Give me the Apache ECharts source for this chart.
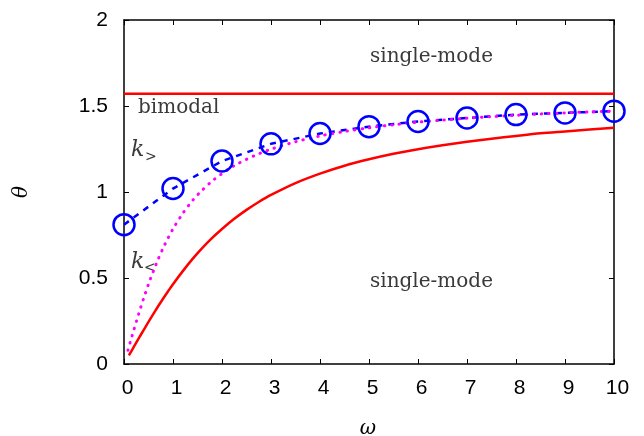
<!DOCTYPE html>
<html>
<head>
<meta charset="utf-8">
<script src="https://cdn.jsdelivr.net/npm/echarts@6/dist/echarts.min.js"></script>
<style>
html,body{margin:0;padding:0;background:#fff;}
#chart{width:644px;height:436px;}
</style>
</head>
<body>
<div id="chart"></div>
<script>
// ---- data ----
var xTickLabels = ['0','1','2','3','4','5','6','7','8','9','10'];
var yTickLabels = ['0','0.5','1','1.5','2'];

// blue circles + dashed line
var circleOmega = [0, 1, 2, 3, 4, 5, 6, 7, 8, 9, 10];
var circleTheta = [0.81, 1.02, 1.18, 1.28, 1.34, 1.38, 1.41, 1.43, 1.45, 1.46, 1.47];

// magenta dotted curve
var dotOmega = [0.08, 0.15, 0.2, 0.3, 0.4, 0.5, 0.6, 0.7, 0.8, 0.9, 1.0, 1.2, 1.4, 1.6, 1.8, 2.0, 2.25, 2.5, 2.75, 3, 3.5, 4, 4.5, 5, 5.5, 6, 6.5, 7, 7.5, 8, 8.5, 9, 9.5, 10];
var dotTheta = [0.080, 0.149, 0.197, 0.291, 0.381, 0.464, 0.540, 0.611, 0.675, 0.733, 0.785, 0.876, 0.951, 1.012, 1.064, 1.107, 1.153, 1.190, 1.222, 1.249, 1.292, 1.326, 1.352, 1.373, 1.391, 1.406, 1.418, 1.429, 1.438, 1.446, 1.454, 1.460, 1.466, 1.471];

// lower red solid curve
var redOmega = [0.1, 0.2, 0.3, 0.4, 0.5, 0.6, 0.7, 0.8, 0.9, 1.0, 1.2, 1.4, 1.6, 1.8, 2.0, 2.25, 2.5, 2.75, 3, 3.5, 4, 4.5, 5, 5.5, 6, 6.5, 7, 7.5, 8, 8.5, 9, 9.5, 10];
var redTheta = [0.050, 0.100, 0.149, 0.197, 0.245, 0.291, 0.337, 0.381, 0.423, 0.464, 0.540, 0.611, 0.675, 0.733, 0.785, 0.844, 0.896, 0.942, 0.983, 1.052, 1.107, 1.153, 1.190, 1.222, 1.249, 1.272, 1.292, 1.310, 1.326, 1.341, 1.352, 1.363, 1.373];

// upper red horizontal line
var topOmega = [0, 10];
var topTheta = [1.571, 1.571];

function zip(a, b) { return a.map(function (v, i) { return [v, b[i]]; }); }

var chart = echarts.init(document.getElementById('chart'), null, {renderer: 'canvas'});

var axisLine = {show: true, onZero: false, lineStyle: {color: '#000', width: 1.5}};
var tick = {show: true, inside: true, length: 5, lineStyle: {color: '#000', width: 1}};
var labelFont = {fontFamily: 'Liberation Sans', fontSize: 21, color: '#000'};
var serif = 'DejaVu Serif';

chart.setOption({
  animation: false,
  backgroundColor: '#fff',
  grid: {left: 124, right: 30, top: 20, bottom: 72, containLabel: false},
  xAxis: [
    {type: 'value', position: 'bottom', min: 0, max: 10, interval: 1,
     axisLine: axisLine, axisTick: tick, splitLine: {show: false},
     axisLabel: Object.assign({margin: 14, padding: [0, 0, 0, 7], formatter: function (v) { return xTickLabels[Math.round(v)]; }}, labelFont)},
    {type: 'value', position: 'top', min: 0, max: 10, interval: 1,
     axisLine: axisLine, axisTick: tick, splitLine: {show: false}, axisLabel: {show: false}}
  ],
  yAxis: [
    {type: 'value', position: 'left', min: 0, max: 2, interval: 0.5,
     axisLine: axisLine, axisTick: tick, splitLine: {show: false},
     axisLabel: Object.assign({margin: 16, formatter: function (v) { return yTickLabels[Math.round(v / 0.5)]; }}, labelFont)},
    {type: 'value', position: 'right', min: 0, max: 2, interval: 0.5,
     axisLine: axisLine, axisTick: tick, splitLine: {show: false}, axisLabel: {show: false}}
  ],
  series: [
    {type: 'line', data: zip(topOmega, topTheta), showSymbol: false,
     lineStyle: {color: '#ff0000', width: 2.5}},
    {type: 'line', data: zip(redOmega, redTheta), showSymbol: false, smooth: 0.3,
     lineStyle: {color: '#ff0000', width: 2.5}},
    {type: 'line', data: zip(circleOmega, circleTheta), clip: false,
     symbol: 'circle', symbolSize: 21, showSymbol: true,
     lineStyle: {color: '#0000ff', width: 2.5, type: [6, 6]},
     itemStyle: {color: 'rgba(0,0,0,0)', borderColor: '#0000ff', borderWidth: 2.5}},
    {type: 'line', data: zip(dotOmega, dotTheta), showSymbol: false, smooth: 0.3,
     lineStyle: {color: '#ff00ff', width: 3, type: [0.5, 7], cap: 'round'}}
  ],
  graphic: [
    {type: 'text', x: 370, y: 57, style: {text: 'single-mode', font: '20px "' + serif + '"', fill: '#3a3a3a', textVerticalAlign: 'middle'}},
    {type: 'text', x: 370, y: 282, style: {text: 'single-mode', font: '20px "' + serif + '"', fill: '#3a3a3a', textVerticalAlign: 'middle'}},
    {type: 'text', x: 138, y: 108, style: {text: 'bimodal', font: '20px "' + serif + '"', fill: '#3a3a3a', textVerticalAlign: 'middle'}},
    {type: 'text', x: 131, y: 150, style: {text: 'k', font: 'italic 22px "' + serif + '"', fill: '#3a3a3a', textVerticalAlign: 'middle'}},
    {type: 'text', x: 145, y: 157, style: {text: '>', font: '14px "' + serif + '"', fill: '#3a3a3a', textVerticalAlign: 'middle'}},
    {type: 'text', x: 131, y: 262, style: {text: 'k', font: 'italic 22px "' + serif + '"', fill: '#3a3a3a', textVerticalAlign: 'middle'}},
    {type: 'text', x: 144, y: 268, style: {text: '<', font: '14px "' + serif + '"', fill: '#3a3a3a', textVerticalAlign: 'middle'}},
    {type: 'text', x: 22, y: 192, rotation: Math.PI / 2, style: {text: 'θ', font: 'italic 20px "' + serif + '"', fill: '#000', textAlign: 'center', textVerticalAlign: 'middle'}},
    {type: 'text', x: 368, y: 429, style: {text: 'ω', font: 'italic 20px "' + serif + '"', fill: '#000', textAlign: 'center', textVerticalAlign: 'middle'}}
  ]
});
</script>
</body>
</html>
